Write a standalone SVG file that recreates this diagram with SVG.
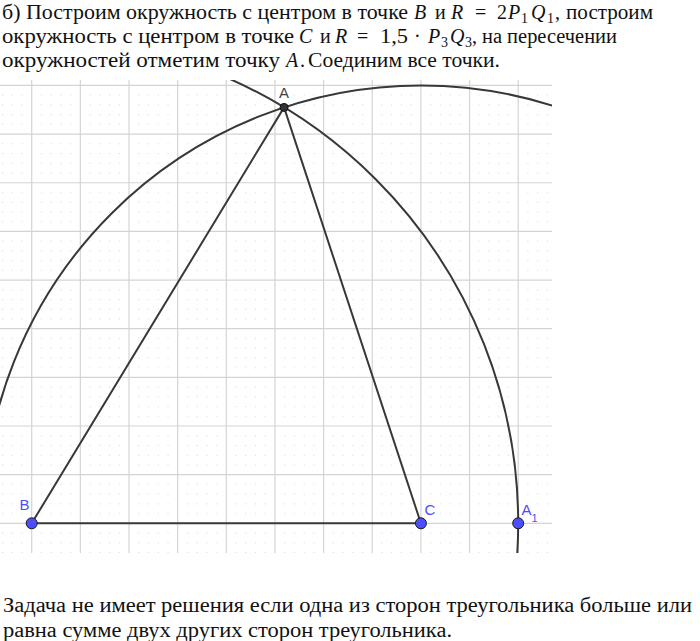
<svg xmlns="http://www.w3.org/2000/svg" width="700" height="641" viewBox="0 0 700 641">
<style>
.t{font-family:"Liberation Serif","DejaVu Serif",serif;font-size:20px;fill:#111}
.i{font-style:italic}
.s{font-size:14px}
.g{stroke:#d4d4d4;stroke-width:1.2}
.ln{stroke:#383838;stroke-width:2;fill:none;stroke-linecap:round}
.pb{fill:#4d4dff;stroke:#1a1a1a;stroke-width:1}
.lb{font-family:"Liberation Sans",Arial,sans-serif;font-size:15px;fill:#4d4dff}
</style>
<defs>
<clipPath id="clip"><rect x="0" y="80" width="552" height="473"/></clipPath>
<pattern id="dots" patternUnits="userSpaceOnUse" x="31.7" y="523.3" width="48.65" height="48.65">
<g fill="#d8d8d8">
<rect x="9.2" y="9.2" width="1.1" height="1.1"/><rect x="18.9" y="9.2" width="1.1" height="1.1"/><rect x="28.7" y="9.2" width="1.1" height="1.1"/><rect x="38.4" y="9.2" width="1.1" height="1.1"/>
<rect x="9.2" y="18.9" width="1.1" height="1.1"/><rect x="18.9" y="18.9" width="1.1" height="1.1"/><rect x="28.7" y="18.9" width="1.1" height="1.1"/><rect x="38.4" y="18.9" width="1.1" height="1.1"/>
<rect x="9.2" y="28.7" width="1.1" height="1.1"/><rect x="18.9" y="28.7" width="1.1" height="1.1"/><rect x="28.7" y="28.7" width="1.1" height="1.1"/><rect x="38.4" y="28.7" width="1.1" height="1.1"/>
<rect x="9.2" y="38.4" width="1.1" height="1.1"/><rect x="18.9" y="38.4" width="1.1" height="1.1"/><rect x="28.7" y="38.4" width="1.1" height="1.1"/><rect x="38.4" y="38.4" width="1.1" height="1.1"/>
</g>
</pattern>
</defs>
<rect width="700" height="641" fill="#fff"/>

<g id="text-top" class="t">
<text x="2" y="19" textLength="406" lengthAdjust="spacingAndGlyphs">б) Построим окружность с центром в точке</text>
<text x="414" y="19" class="i">B</text>
<text x="435" y="19">и</text>
<text x="451" y="19" class="i">R</text>
<text x="475" y="19">=</text>
<text x="497" y="19">2</text>
<text x="508" y="19" class="i">P</text>
<text x="521" y="23" class="s">1</text>
<text x="531" y="19" class="i">Q</text>
<text x="547" y="23" class="s">1</text>
<text x="555" y="19">,</text>
<text x="566" y="19" textLength="87" lengthAdjust="spacingAndGlyphs">построим</text>

<text x="2" y="43" textLength="292" lengthAdjust="spacingAndGlyphs">окружность с центром в точке</text>
<text x="299" y="43" class="i">C</text>
<text x="320" y="43">и</text>
<text x="335" y="43" class="i">R</text>
<text x="357" y="43">=</text>
<text x="380" y="43" textLength="28" lengthAdjust="spacingAndGlyphs">1,5</text>
<text x="414" y="43">·</text>
<text x="428" y="43" class="i">P</text>
<text x="441" y="47" class="s">3</text>
<text x="450" y="43" class="i">Q</text>
<text x="465" y="47" class="s">3</text>
<text x="472" y="43">,</text>
<text x="482" y="43" textLength="135" lengthAdjust="spacingAndGlyphs">на пересечении</text>

<text x="2" y="67" textLength="278" lengthAdjust="spacingAndGlyphs">окружностей отметим точку</text>
<text x="286" y="67" class="i">A</text>
<text x="300" y="67">.</text>
<text x="308" y="67" textLength="192" lengthAdjust="spacingAndGlyphs">Соединим все точки.</text>
</g>

<g id="grid">
<rect x="0" y="80" width="552" height="473" fill="url(#dots)"/>
<g class="g">
<line x1="31.7" y1="80" x2="31.7" y2="553"/>
<line x1="80.35" y1="80" x2="80.35" y2="553"/>
<line x1="129" y1="80" x2="129" y2="553"/>
<line x1="177.65" y1="80" x2="177.65" y2="553"/>
<line x1="226.3" y1="80" x2="226.3" y2="553"/>
<line x1="274.95" y1="80" x2="274.95" y2="553"/>
<line x1="323.6" y1="80" x2="323.6" y2="553"/>
<line x1="372.25" y1="80" x2="372.25" y2="553"/>
<line x1="420.9" y1="80" x2="420.9" y2="553"/>
<line x1="469.55" y1="80" x2="469.55" y2="553"/>
<line x1="518.2" y1="80" x2="518.2" y2="553"/>
<line x1="0" y1="523.3" x2="552" y2="523.3"/>
<line x1="0" y1="474.65" x2="552" y2="474.65"/>
<line x1="0" y1="426" x2="552" y2="426"/>
<line x1="0" y1="377.35" x2="552" y2="377.35"/>
<line x1="0" y1="328.7" x2="552" y2="328.7"/>
<line x1="0" y1="280.05" x2="552" y2="280.05"/>
<line x1="0" y1="231.4" x2="552" y2="231.4"/>
<line x1="0" y1="182.75" x2="552" y2="182.75"/>
<line x1="0" y1="134.1" x2="552" y2="134.1"/>
<line x1="0" y1="85.45" x2="552" y2="85.45"/>
</g>
</g>

<g id="circles" clip-path="url(#clip)">
<circle class="ln" cx="31.7" cy="523.3" r="486.5"/>
<circle class="ln" cx="420.9" cy="523.3" r="437.85"/>
</g>

<g id="connectors" class="ln">
<line x1="31.7" y1="523.3" x2="420.9" y2="523.3"/>
<line x1="31.7" y1="523.3" x2="284.07" y2="107.39"/>
<line x1="420.9" y1="523.3" x2="284.07" y2="107.39"/>
</g>

<g id="node-A">
<circle cx="284.07" cy="107.39" r="4" fill="#333" stroke="#111" stroke-width="1"/>
<text x="279" y="97.5" class="lb" style="fill:#444">A</text>
</g>
<g id="node-B">
<circle cx="31.7" cy="523.3" r="5.5" class="pb"/>
<text x="19.5" y="509.5" class="lb">B</text>
</g>
<g id="node-C">
<circle cx="420.9" cy="523.3" r="5.5" class="pb"/>
<text x="424.5" y="514.5" class="lb">C</text>
</g>
<g id="node-A1">
<circle cx="518.2" cy="523.3" r="5.5" class="pb"/>
<text x="521.5" y="515" class="lb">A<tspan font-size="11" dy="6.5">1</tspan></text>
</g>

<g id="text-bottom" class="t">
<text x="3" y="612" textLength="689" lengthAdjust="spacingAndGlyphs">Задача не имеет решения если одна из сторон треугольника больше или</text>
<text x="3" y="637" textLength="449" lengthAdjust="spacingAndGlyphs">равна сумме двух других сторон треугольника.</text>
</g>
</svg>
